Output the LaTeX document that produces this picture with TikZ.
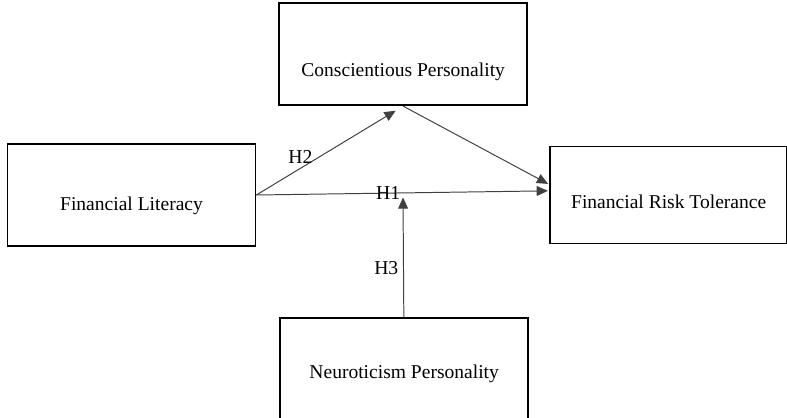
\documentclass[tikz,border=0pt]{standalone}
\usepackage{fontspec}
\setmainfont{Liberation Serif}
\usetikzlibrary{arrows.meta}
\usetikzlibrary{positioning}

\begin{document}
\begin{tikzpicture}[->,>={Triangle[length=8pt,width=7pt]},shorten >=1pt,line width=0.7pt,
	main node/.style={rectangle,draw,line width=1.2pt,minimum width=6.2cm,minimum height=2.55cm,font=\fontsize{13.9}{16}\selectfont},
	hyp node/.style={font=\fontsize{14}{16}\selectfont}]

	\useasboundingbox (0,0) rectangle (19.675,-10.45);

	\node[main node,text height=25pt] (lit) at (3.2875,-4.875) {Financial Literacy};
	\node[main node,text height=34pt] (consc) [above right=0.925cm and 0.55cm of lit] {Conscientious Personality};
	\node[main node,minimum width=5.925cm,minimum height=2.425cm,text height=19pt] (risk) [right=7.325cm of lit] {Financial Risk Tolerance};
	\node[main node,text height=16.4pt] (neuro) [below right=1.75cm and 0.575cm of lit] {Neuroticism Personality};
	\coordinate (meet) at (10.075,-4.9);

	\path[every edge/.append style={draw=black!75},every node/.style={hyp node}]
		(lit.east) edge [shorten >=0.22cm] node [pos=0.3,above] {H2} (consc.south)
			edge node [pos=0.45,anchor=center] {H1} (risk.178)
		(consc.south) edge (risk.175)
		(neuro) edge node [pos=0.4,left] {H3} (meet);

\end{tikzpicture}
\end{document}
